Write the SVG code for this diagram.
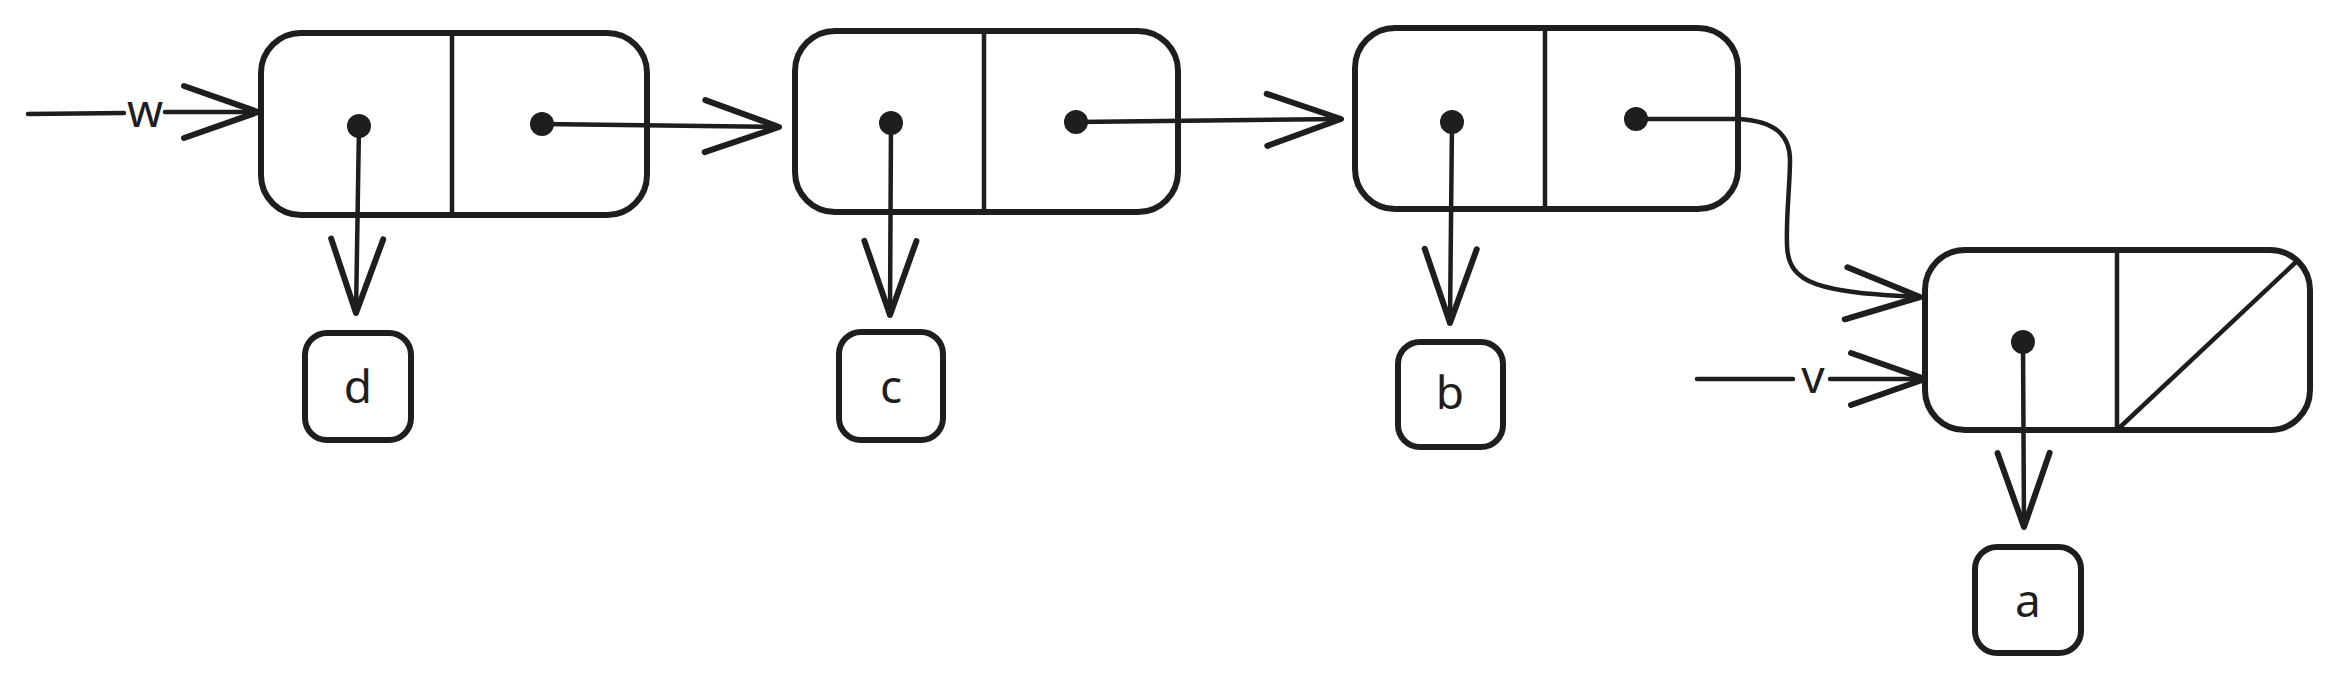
<svg xmlns="http://www.w3.org/2000/svg" width="2340" height="683" viewBox="0 0 2340 683">
<defs>
<style>
.box{fill:none;stroke:#1e1e1e;stroke-width:6;}
.div{fill:none;stroke:#1e1e1e;stroke-width:4.5;stroke-linecap:round;}
.dot{fill:#1e1e1e;}
.ln{fill:none;stroke:#1e1e1e;stroke-width:4.5;stroke-linecap:round;stroke-linejoin:round;}
.lbl{font-family:"Noto Sans","Liberation Sans",sans-serif;font-size:46px;fill:#1e1e1e;text-anchor:middle;}
</style>
<marker id="ah" markerUnits="userSpaceOnUse" markerWidth="90" markerHeight="70" viewBox="-82 -35 90 70" refX="0" refY="0" orient="auto" overflow="visible">
<path d="M-74,-26 L0,0 L-74,26" fill="none" stroke="#1e1e1e" stroke-width="6" stroke-linecap="round" stroke-linejoin="round"/>
</marker>
</defs>
<rect width="2340" height="683" fill="#ffffff"/>

<g id="node1">
<rect class="box" x="261" y="33" width="386" height="182" rx="40" ry="40"/>
<line class="div" x1="452" y1="33" x2="452" y2="215"/>
<circle class="dot" cx="359" cy="126" r="12"/>
<circle class="dot" cx="542" cy="124" r="12"/>
</g>
<g id="node2">
<rect class="box" x="795" y="31" width="383" height="181" rx="40" ry="40"/>
<line class="div" x1="984" y1="31" x2="984" y2="212"/>
<circle class="dot" cx="891" cy="123" r="12"/>
<circle class="dot" cx="1076" cy="122" r="12"/>
</g>
<g id="node3">
<rect class="box" x="1355" y="28" width="383" height="181" rx="40" ry="40"/>
<line class="div" x1="1545" y1="28" x2="1545" y2="209"/>
<circle class="dot" cx="1452" cy="122" r="12"/>
<circle class="dot" cx="1636" cy="119" r="12"/>
</g>
<g id="node4">
<rect class="box" x="1925" y="250" width="385" height="180" rx="40" ry="40"/>
<line class="div" x1="2117" y1="250" x2="2117" y2="430"/>
<line class="div" x1="2117" y1="430" x2="2296" y2="262"/>
<circle class="dot" cx="2023" cy="342" r="12"/>
</g>

<g id="val-d">
<rect class="box" x="305" y="333" width="106" height="107" rx="22" ry="22"/>
<text class="lbl" x="358" y="403">d</text>
</g>
<g id="val-c">
<rect class="box" x="839" y="332" width="104" height="108" rx="22" ry="22"/>
<text class="lbl" x="891" y="403">c</text>
</g>
<g id="val-b">
<rect class="box" x="1398" y="342" width="105" height="105" rx="22" ry="22"/>
<text class="lbl" x="1450" y="409">b</text>
</g>
<g id="val-a">
<rect class="box" x="1975" y="547" width="106" height="106" rx="22" ry="22"/>
<text class="lbl" x="2028" y="617">a</text>
</g>

<g id="connectors">
<line class="ln" x1="28" y1="114" x2="124" y2="113"/>
<line class="ln" x1="165" y1="112" x2="258" y2="112" marker-end="url(#ah)"/>
<text class="lbl" x="145" y="127">w</text>

<line class="ln" x1="359" y1="126" x2="356" y2="313" marker-end="url(#ah)"/>
<line class="ln" x1="542" y1="124" x2="779" y2="127" marker-end="url(#ah)"/>
<line class="ln" x1="891" y1="123" x2="890" y2="315" marker-end="url(#ah)"/>
<line class="ln" x1="1076" y1="122" x2="1341" y2="119" marker-end="url(#ah)"/>
<line class="ln" x1="1452" y1="122" x2="1450" y2="323" marker-end="url(#ah)"/>
<path class="ln" d="M1636,119 L1738,119 C1775,121 1790,135 1790,160 C1790,185 1786,215 1787,245 C1788,285 1820,292 1920,297" marker-end="url(#ah)"/>
<line class="ln" x1="1697" y1="379" x2="1793" y2="379"/>
<line class="ln" x1="1830" y1="379" x2="1925" y2="379" marker-end="url(#ah)"/>
<text class="lbl" x="1813" y="393">v</text>
<line class="ln" x1="2023" y1="342" x2="2024" y2="527" marker-end="url(#ah)"/>
</g>
</svg>
